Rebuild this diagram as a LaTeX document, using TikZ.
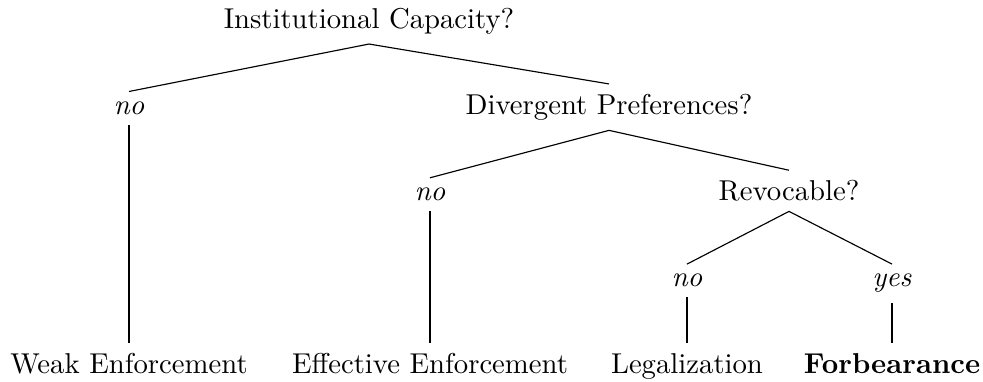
\documentclass[tikz,border=0pt]{standalone}
\begin{document}
\begin{tikzpicture}[x=0.3484pt,y=-0.3484pt,
  tn/.style={anchor=base,inner sep=3.333pt,font=\fontsize{10}{12}\selectfont},
  edge/.style={draw=black,line width=0.4pt}]
\useasboundingbox (0,0) rectangle (983,381);
\node[tn] (root) at (369,28) {Institutional Capacity?};
\node[tn] (n1) at (129,114.3) {\emph{no}};
\node[tn] (div) at (609,114.3) {Divergent Preferences?};
\node[tn] (n2) at (430,200.6) {\emph{no}};
\node[tn] (rev) at (789,200.6) {Revocable?};
\node[tn] (n3) at (687,286.9) {\emph{no}};
\node[tn] (y3) at (892,286.9) {\emph{yes}};
\node[tn] (weak) at (129,373.2) {Weak Enforcement};
\node[tn] (eff) at (430,373.2) {Effective Enforcement};
\node[tn] (leg) at (687,373.2) {Legalization};
\node[tn] (forb) at (892,373.2) {\textbf{Forbearance}};
\draw[edge] (root.south) -- (n1.north);
\draw[edge] (root.south) -- (div.north);
\draw[edge] (n1.south) -- (weak.north);
\draw[edge] (div.south) -- (n2.north);
\draw[edge] (div.south) -- (rev.north);
\draw[edge] (n2.south) -- (eff.north);
\draw[edge] (rev.south) -- (n3.north);
\draw[edge] (rev.south) -- (y3.north);
\draw[edge] (n3.south) -- (leg.north);
\draw[edge] (y3.south) -- (forb.north);
\end{tikzpicture}
\end{document}
